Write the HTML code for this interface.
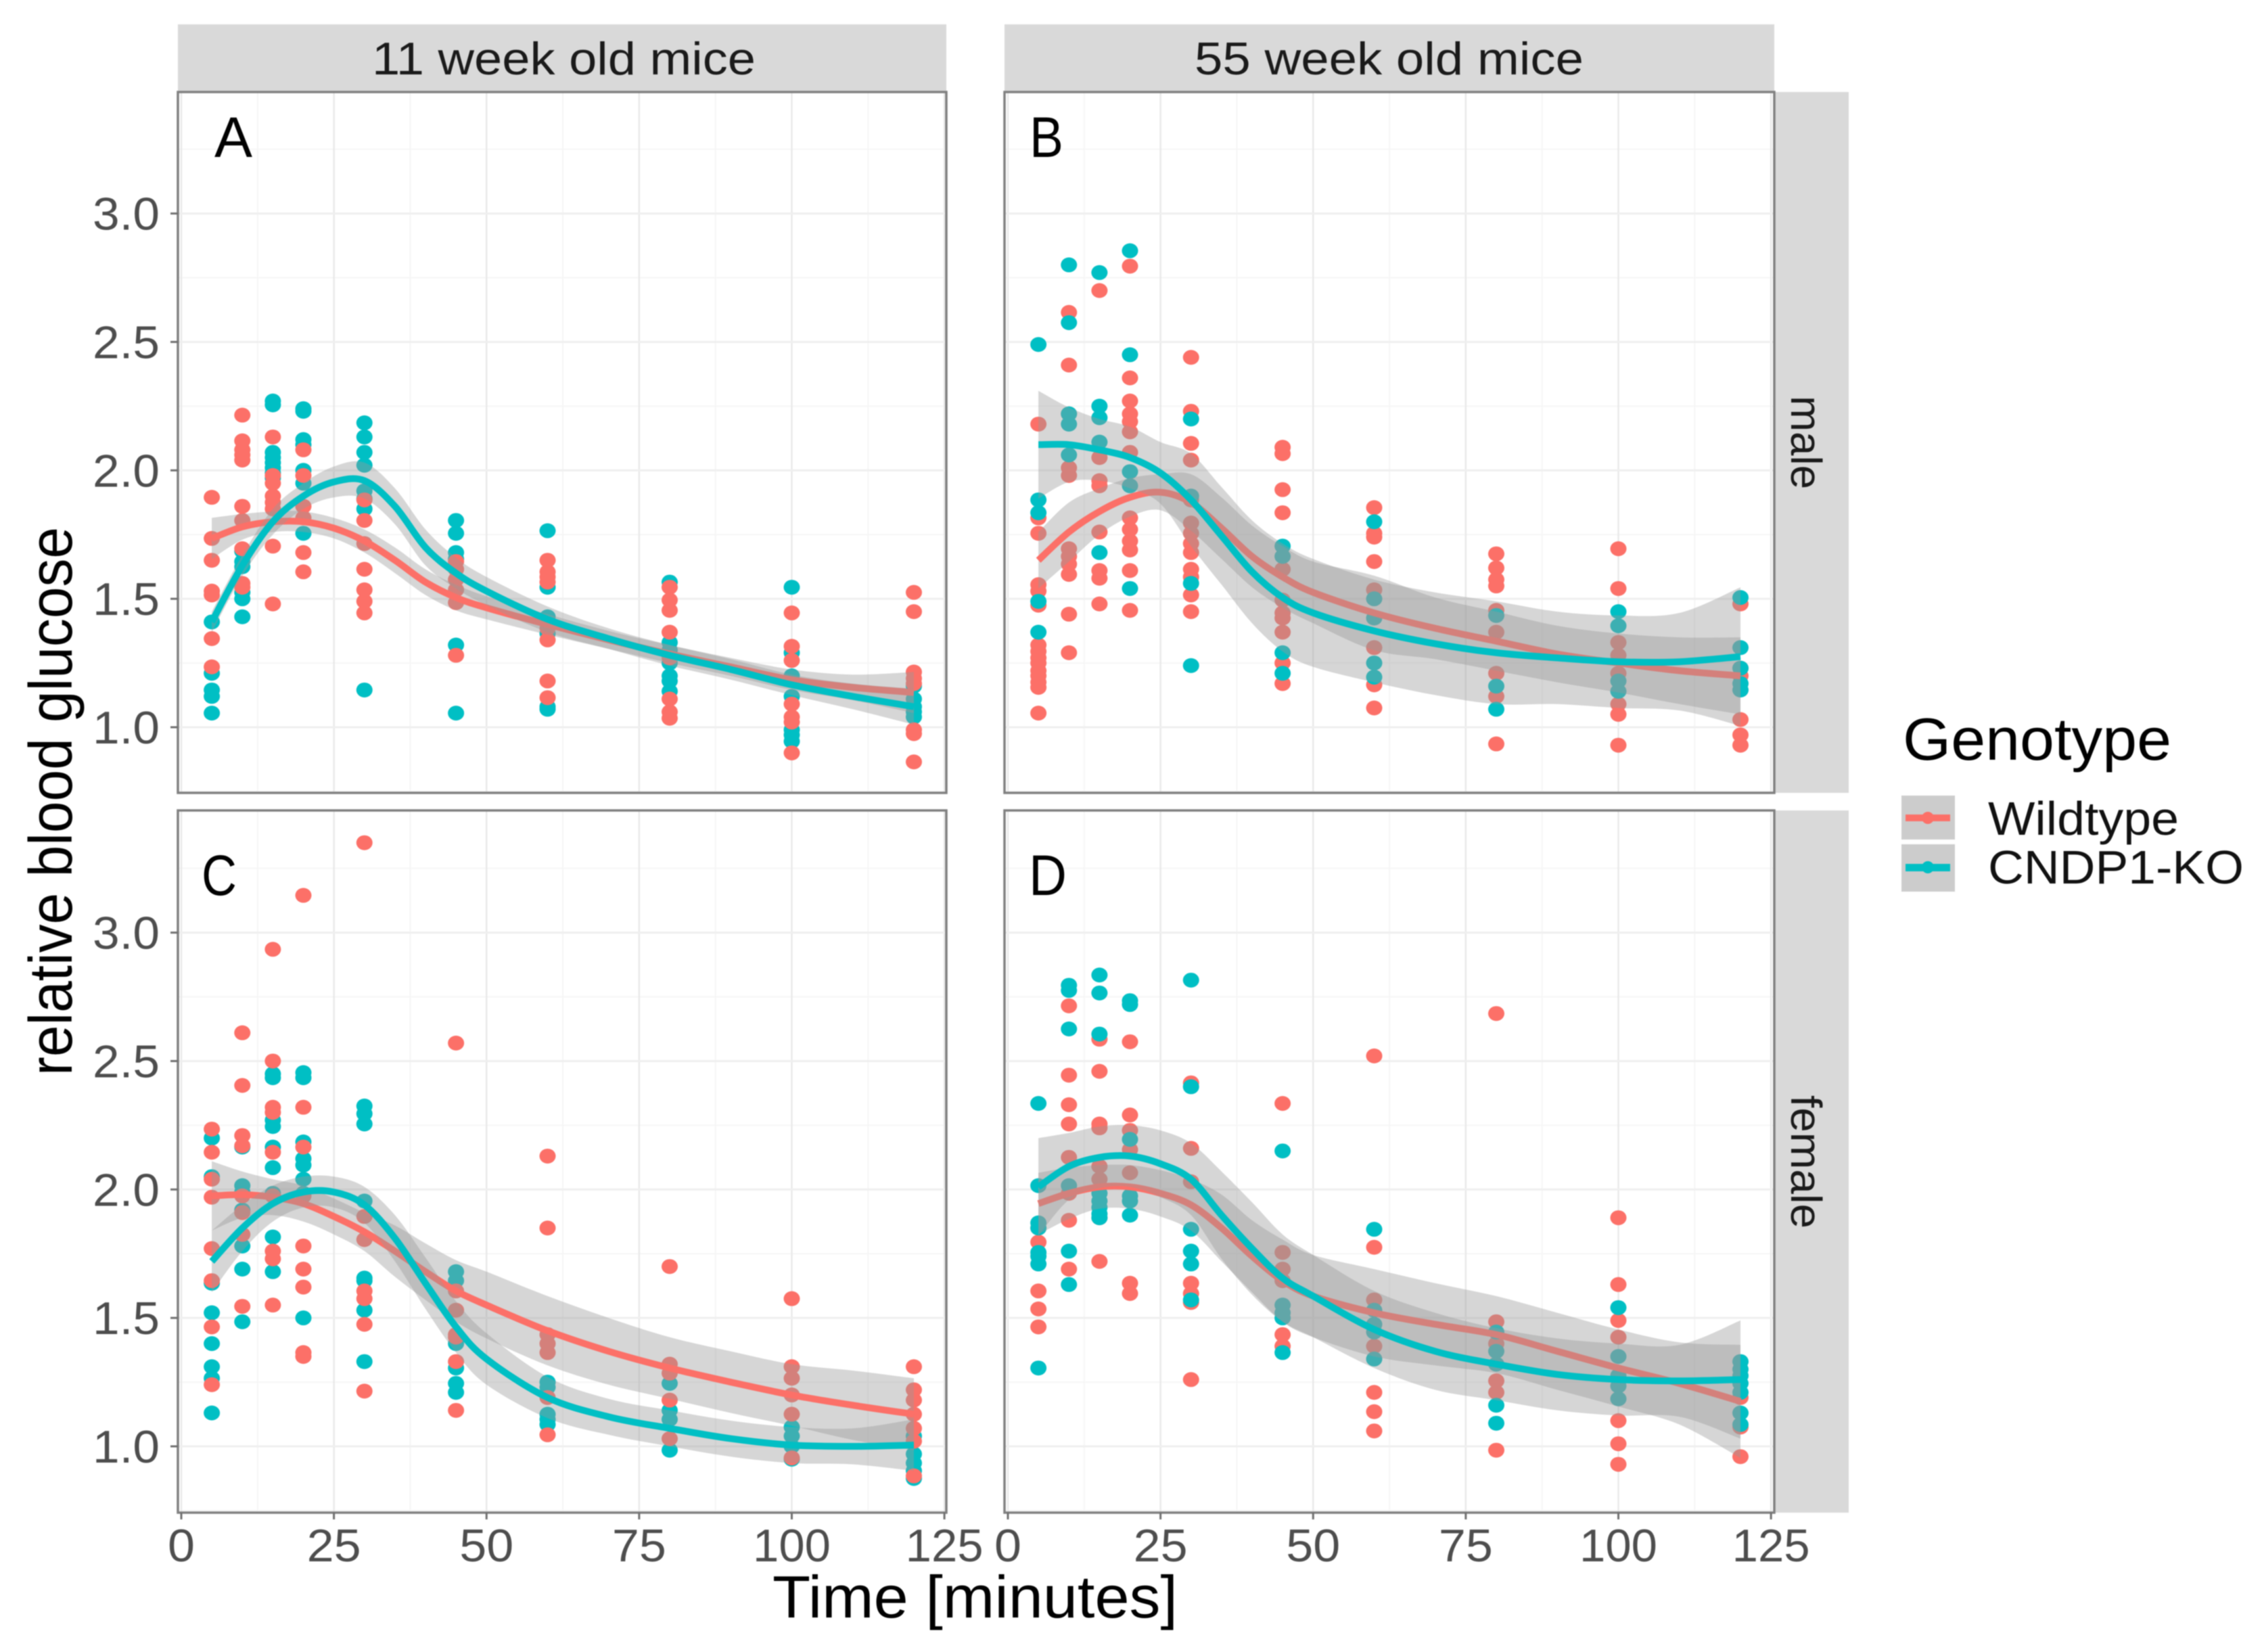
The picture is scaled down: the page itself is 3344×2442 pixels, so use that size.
<!DOCTYPE html>
<html lang="en">
<head>
<meta charset="utf-8">
<title>Relative blood glucose over time</title>
<style>
html,body{margin:0;padding:0;background:#fff;}
svg{display:block;font-family:"Liberation Sans",Arial,sans-serif;filter:blur(0.8px);}
</style>
</head>
<body>
<svg id="chart" xmlns="http://www.w3.org/2000/svg" width="3344" height="2442" viewBox="0 0 3344 2442">
  <rect x="0" y="0" width="3344" height="2442" fill="#ffffff"/>
  <g fill="#d9d9d9">
    <rect x="263" y="36" width="1136" height="100"/>
    <rect x="1485" y="36" width="1138" height="100"/>
    <rect x="2623" y="136" width="110" height="1036"/>
    <rect x="2623" y="1198" width="110" height="1038"/>
  </g>
  <g id="panels"></g>
  <g id="axes"></g>
  <g fill="#1a1a1a" font-size="68">
    <text x="550" y="110" textLength="567" lengthAdjust="spacingAndGlyphs">11 week old mice</text>
    <text x="1766" y="110" textLength="575" lengthAdjust="spacingAndGlyphs">55 week old mice</text>
    <text transform="translate(2648,585) rotate(90)" font-size="64" textLength="138" lengthAdjust="spacingAndGlyphs">male</text>
    <text transform="translate(2648,1619) rotate(90)" font-size="64" textLength="197" lengthAdjust="spacingAndGlyphs">female</text>
  </g>
  <g fill="#000000" font-size="84">
    <text x="317" y="232" textLength="56" lengthAdjust="spacingAndGlyphs">A</text>
    <text x="1522" y="232" textLength="50" lengthAdjust="spacingAndGlyphs">B</text>
    <text x="298" y="1323" textLength="52" lengthAdjust="spacingAndGlyphs">C</text>
    <text x="1521" y="1323" textLength="56" lengthAdjust="spacingAndGlyphs">D</text>
  </g>
  <text x="1142" y="2391" font-size="88" fill="#000000" textLength="599" lengthAdjust="spacingAndGlyphs">Time [minutes]</text>
  <text transform="translate(106,1590) rotate(-90)" font-size="90" fill="#000000" textLength="811" lengthAdjust="spacingAndGlyphs">relative blood glucose</text>
  <g>
    <text x="2813" y="1123" font-size="88" fill="#000000" textLength="397" lengthAdjust="spacingAndGlyphs">Genotype</text>
    <rect x="2811" y="1176" width="79" height="65" fill="#cccccc"/>
    <rect x="2811" y="1248" width="79" height="70" fill="#cccccc"/>
    <rect x="2817" y="1204" width="66" height="10" fill="#fc7068"/>
    <circle cx="2850" cy="1209" r="9" fill="#fc7068"/>
    <rect x="2817" y="1277" width="66" height="11" fill="#00bfc4"/>
    <circle cx="2850" cy="1282" r="9" fill="#00bfc4"/>
    <text x="2939" y="1234" font-size="70" fill="#111111" textLength="282" lengthAdjust="spacingAndGlyphs">Wildtype</text>
    <text x="2939" y="1306" font-size="70" fill="#111111" textLength="378" lengthAdjust="spacingAndGlyphs">CNDP1-KO</text>
  </g>
</svg>
<script>
const sampleTimes = [5, 10, 15, 20, 30, 45, 60, 80, 100, 120];
const curveTimes = [5, 10, 15, 20, 25, 30, 35, 40, 45, 50, 60, 70, 80, 90, 100, 110, 120];
const xTickLabels = ['0', '25', '50', '75', '100', '125'];
const xTickValues = [0, 25, 50, 75, 100, 125];
const xMinorValues = [12.5, 37.5, 62.5, 87.5, 112.5];
const yTickLabels = ['1.0', '1.5', '2.0', '2.5', '3.0'];
const yTickValues = [1, 1.5, 2, 2.5, 3];
const yMinorValues = [0.75, 1.25, 1.75, 2.25, 2.75, 3.25];

const panelAWildtypePoints = [
  [1.895, 1.735, 1.65, 1.53, 1.515, 1.345, 1.235],
  [2.215, 2.115, 2.08, 2.06, 2.04, 1.86, 1.805, 1.695, 1.56, 1.545],
  [2.13, 1.98, 1.95, 1.9, 1.875, 1.85, 1.705, 1.48],
  [2.08, 1.98, 1.86, 1.815, 1.68, 1.605],
  [1.885, 1.805, 1.715, 1.615, 1.535, 1.49, 1.445],
  [1.645, 1.615, 1.575, 1.535, 1.485, 1.28],
  [1.65, 1.605, 1.585, 1.565, 1.385, 1.34, 1.18, 1.115],
  [1.545, 1.495, 1.455, 1.37, 1.27, 1.11, 1.06, 1.035],
  [1.445, 1.315, 1.26, 1.09, 1.04, 1.02, 0.9],
  [1.525, 1.45, 1.215, 1.19, 1.17, 0.99, 0.975, 0.865]
];
const panelAKnockoutPoints = [
  [1.41, 1.21, 1.145, 1.12, 1.055],
  [1.685, 1.645, 1.625, 1.525, 1.5, 1.43],
  [2.27, 2.255, 2.07, 2.05, 2.03, 2.01, 1.99, 1.97],
  [2.24, 2.23, 2.12, 2.1, 2.0, 1.95, 1.755],
  [2.185, 2.13, 2.07, 2.02, 1.92, 1.89, 1.85, 1.145],
  [1.805, 1.755, 1.68, 1.655, 1.32, 1.055],
  [1.765, 1.545, 1.43, 1.365, 1.08, 1.07],
  [1.565, 1.33, 1.3, 1.25, 1.2, 1.18, 1.14],
  [1.545, 1.29, 1.2, 1.12, 0.99, 0.97, 0.945],
  [1.16, 1.11, 1.08, 1.06, 1.04]
];
const panelBWildtypePoints = [
  [2.18, 1.815, 1.755, 1.555, 1.53, 1.475, 1.32, 1.295, 1.27, 1.25, 1.22, 1.2, 1.175, 1.155, 1.055],
  [2.615, 2.41, 2.22, 2.01, 1.98, 1.695, 1.665, 1.635, 1.595, 1.44, 1.29],
  [2.7, 2.05, 1.96, 1.94, 1.76, 1.61, 1.58, 1.48],
  [2.795, 2.36, 2.27, 2.22, 2.19, 2.15, 2.07, 1.815, 1.77, 1.725, 1.69, 1.61, 1.455],
  [2.44, 2.23, 2.105, 2.04, 1.885, 1.795, 1.755, 1.715, 1.68, 1.615, 1.585, 1.515, 1.45],
  [2.09, 2.065, 1.925, 1.835, 1.615, 1.495, 1.445, 1.425, 1.37, 1.25, 1.17],
  [1.855, 1.755, 1.74, 1.645, 1.535, 1.31, 1.165, 1.075],
  [1.675, 1.62, 1.575, 1.55, 1.455, 1.37, 1.21, 1.12, 0.935],
  [1.695, 1.54, 1.33, 1.28, 1.21, 1.09, 1.05, 0.93],
  [1.48, 1.23, 1.2, 1.03, 0.97, 0.93]
];
const panelBKnockoutPoints = [
  [2.49, 1.885, 1.835, 1.49, 1.37],
  [2.8, 2.575, 2.22, 2.18, 2.06],
  [2.77, 2.25, 2.205, 2.11, 1.68],
  [2.855, 2.45, 1.995, 1.94, 1.54],
  [2.2, 1.9, 1.56, 1.24],
  [1.705, 1.665, 1.29, 1.21],
  [1.8, 1.5, 1.425, 1.25, 1.195],
  [1.435, 1.16, 1.07],
  [1.45, 1.395, 1.18, 1.14],
  [1.505, 1.31, 1.23, 1.17, 1.145]
];
const panelCWildtypePoints = [
  [2.235, 2.145, 2.04, 1.97, 1.77, 1.645, 1.465, 1.24],
  [2.61, 2.405, 2.21, 2.17, 1.975, 1.91, 1.825, 1.545],
  [2.935, 2.5, 2.32, 2.3, 2.145, 1.975, 1.76, 1.73, 1.55],
  [3.145, 2.32, 2.165, 1.975, 1.78, 1.69, 1.62, 1.365, 1.35],
  [3.35, 1.895, 1.805, 1.605, 1.575, 1.475, 1.215],
  [2.57, 1.605, 1.53, 1.435, 1.425, 1.33, 1.14],
  [2.13, 1.85, 1.435, 1.4, 1.365, 1.19, 1.045],
  [1.7, 1.32, 1.285, 1.18, 1.03],
  [1.575, 1.31, 1.265, 1.2, 1.125, 0.955],
  [1.31, 1.22, 1.18, 1.125, 1.07, 1.02, 0.885]
];
const panelCKnockoutPoints = [
  [2.2, 2.05, 1.635, 1.52, 1.4, 1.31, 1.265, 1.13],
  [2.165, 2.015, 1.99, 1.92, 1.78, 1.69, 1.485],
  [2.45, 2.435, 2.27, 2.245, 2.165, 2.085, 1.985, 1.815, 1.68],
  [2.455, 2.435, 2.185, 2.12, 2.095, 2.04, 1.985, 1.5],
  [2.325, 2.295, 2.255, 1.955, 1.655, 1.645, 1.53, 1.33],
  [1.68, 1.645, 1.4, 1.305, 1.245, 1.21],
  [1.25, 1.23, 1.125, 1.105, 1.085],
  [1.245, 1.14, 1.105, 0.985],
  [1.075, 1.04, 1.0, 0.95],
  [1.04, 0.97, 0.935, 0.905, 0.875]
];
const panelDWildtypePoints = [
  [1.85, 1.795, 1.605, 1.535, 1.465],
  [2.715, 2.445, 2.33, 2.255, 2.125, 1.985, 1.88, 1.69],
  [2.585, 2.46, 2.255, 2.24, 2.09, 2.04, 1.89, 1.72],
  [2.575, 2.29, 2.23, 2.155, 2.065, 1.635, 1.595],
  [2.415, 2.16, 2.03, 1.635, 1.595, 1.56, 1.26],
  [2.335, 1.755, 1.69, 1.645, 1.435, 1.39],
  [2.52, 1.775, 1.57, 1.39, 1.21, 1.135, 1.06],
  [2.685, 1.485, 1.4, 1.255, 1.21, 0.985],
  [1.89, 1.63, 1.49, 1.425, 1.1, 1.01, 0.93],
  [1.19, 1.075, 0.96]
];
const panelDKnockoutPoints = [
  [2.335, 2.015, 1.87, 1.85, 1.755, 1.74, 1.71, 1.305],
  [2.795, 2.775, 2.625, 2.015, 1.76, 1.63],
  [2.835, 2.765, 2.605, 1.985, 1.955, 1.93, 1.905, 1.89],
  [2.735, 2.72, 2.195, 1.975, 1.955, 1.9],
  [2.815, 2.4, 1.845, 1.76, 1.71, 1.57],
  [2.15, 1.55, 1.52, 1.5, 1.365],
  [1.845, 1.53, 1.475, 1.445, 1.34],
  [1.445, 1.37, 1.32, 1.16, 1.09],
  [1.54, 1.35, 1.275, 1.235, 1.185],
  [1.33, 1.3, 1.275, 1.245, 1.21, 1.13, 1.085]
];

const panelAWildtypeCurve = [1.735, 1.78, 1.8, 1.8, 1.775, 1.725, 1.65, 1.565, 1.505, 1.465, 1.4, 1.34, 1.285, 1.235, 1.185, 1.155, 1.135];
const panelAWildtypeBand = [0.08, 0.05, 0.04, 0.04, 0.04, 0.045, 0.05, 0.05, 0.05, 0.045, 0.04, 0.035, 0.035, 0.035, 0.04, 0.05, 0.08];
const panelAKnockoutCurve = [1.41, 1.63, 1.8, 1.9, 1.955, 1.96, 1.86, 1.7, 1.6, 1.53, 1.42, 1.345, 1.28, 1.225, 1.165, 1.12, 1.08];
const panelAKnockoutBand = [0.04, 0.04, 0.05, 0.05, 0.06, 0.07, 0.07, 0.07, 0.06, 0.055, 0.05, 0.04, 0.04, 0.04, 0.04, 0.05, 0.07];
const panelBWildtypeCurve = [1.65, 1.76, 1.84, 1.895, 1.915, 1.875, 1.775, 1.665, 1.585, 1.525, 1.445, 1.385, 1.335, 1.285, 1.25, 1.22, 1.2];
const panelBWildtypeBand = [0.11, 0.115, 0.09, 0.075, 0.07, 0.11, 0.12, 0.12, 0.12, 0.12, 0.145, 0.12, 0.115, 0.11, 0.115, 0.13, 0.15];
const panelBKnockoutCurve = [2.1, 2.1, 2.08, 2.05, 1.99, 1.885, 1.745, 1.605, 1.505, 1.445, 1.375, 1.325, 1.29, 1.27, 1.255, 1.255, 1.275];
const panelBKnockoutBand = [0.21, 0.145, 0.12, 0.12, 0.12, 0.18, 0.19, 0.2, 0.21, 0.21, 0.2, 0.2, 0.2, 0.18, 0.18, 0.19, 0.27];
const panelCWildtypeCurve = [1.975, 1.98, 1.97, 1.945, 1.895, 1.835, 1.76, 1.68, 1.605, 1.55, 1.45, 1.37, 1.305, 1.25, 1.2, 1.16, 1.125];
const panelCWildtypeBand = [0.135, 0.09, 0.07, 0.07, 0.07, 0.075, 0.1, 0.11, 0.12, 0.13, 0.135, 0.13, 0.12, 0.12, 0.12, 0.135, 0.14];
const panelCKnockoutCurve = [1.72, 1.85, 1.945, 1.99, 1.99, 1.94, 1.81, 1.635, 1.465, 1.34, 1.19, 1.115, 1.07, 1.03, 1.005, 1.0, 1.005];
const panelCKnockoutBand = [0.12, 0.09, 0.07, 0.06, 0.06, 0.07, 0.09, 0.1, 0.1, 0.1, 0.08, 0.07, 0.07, 0.07, 0.07, 0.07, 0.1];
const panelDWildtypeCurve = [1.945, 1.985, 2.01, 2.01, 1.985, 1.94, 1.85, 1.74, 1.645, 1.585, 1.52, 1.475, 1.435, 1.37, 1.305, 1.245, 1.175];
const panelDWildtypeBand = [0.12, 0.1, 0.085, 0.085, 0.09, 0.1, 0.13, 0.14, 0.16, 0.16, 0.17, 0.16, 0.15, 0.15, 0.15, 0.16, 0.22];
const panelDKnockoutCurve = [2.01, 2.09, 2.125, 2.13, 2.1, 2.04, 1.9, 1.77, 1.655, 1.585, 1.455, 1.37, 1.32, 1.28, 1.26, 1.255, 1.26];
const panelDKnockoutBand = [0.19, 0.13, 0.12, 0.12, 0.13, 0.14, 0.17, 0.18, 0.17, 0.16, 0.15, 0.15, 0.14, 0.14, 0.14, 0.14, 0.23];

const NS = 'http://www.w3.org/2000/svg';
const COLOR_WT = '#fc7068';
const COLOR_KO = '#00bfc4';
const panelsRoot = document.getElementById('panels');
const axesRoot = document.getElementById('axes');

function svgEl(tag, parent) {
  const el = document.createElementNS(NS, tag);
  parent.appendChild(el);
  return el;
}
function xScale(col) {
  const zero = col === 0 ? 268 : 1490;
  return function (t) { return zero + t * 9.025; };
}
function yScale(row) {
  const one = row === 0 ? 1075 : 2138;
  return function (v) { return one - (v - 1) * 379.7; };
}
function splineSegments(pts) {
  let d = '';
  for (let i = 0; i < pts.length - 1; i++) {
    const p0 = pts[Math.max(i - 1, 0)];
    const p1 = pts[i];
    const p2 = pts[i + 1];
    const p3 = pts[Math.min(i + 2, pts.length - 1)];
    const c1x = p1[0] + (p2[0] - p0[0]) / 6;
    const c1y = p1[1] + (p2[1] - p0[1]) / 6;
    const c2x = p2[0] - (p3[0] - p1[0]) / 6;
    const c2y = p2[1] - (p3[1] - p1[1]) / 6;
    d += 'C' + c1x.toFixed(1) + ' ' + c1y.toFixed(1) + ' ' + c2x.toFixed(1) + ' ' + c2y.toFixed(1) + ' ' + p2[0].toFixed(1) + ' ' + p2[1].toFixed(1);
  }
  return d;
}
function curvePoints(x, y, values, sign, band) {
  return curveTimes.map(function (t, i) {
    const offset = band ? sign * band[i] : 0;
    return [x(t), y(values[i] + offset)];
  });
}

function drawGrid(g, x, y, box) {
  xMinorValues.forEach(function (v) {
    const l = svgEl('line', g);
    
    
    l.setAttribute('x1', x(v)); l.setAttribute('x2', x(v));
    l.setAttribute('y1', box.top); l.setAttribute('y2', box.bottom);
    l.setAttribute('stroke', '#f5f5f5'); l.setAttribute('stroke-width', 2);
  });
  yMinorValues.forEach(function (v) {
    const l = svgEl('line', g);
    
    
    l.setAttribute('x1', box.left); l.setAttribute('x2', box.right);
    l.setAttribute('y1', y(v)); l.setAttribute('y2', y(v));
    l.setAttribute('stroke', '#f6f6f6'); l.setAttribute('stroke-width', 2);
  });
  xTickValues.forEach(function (v) {
    const l = svgEl('line', g);
    
    
    l.setAttribute('x1', x(v)); l.setAttribute('x2', x(v));
    l.setAttribute('y1', box.top); l.setAttribute('y2', box.bottom);
    l.setAttribute('stroke', '#e9e9e9'); l.setAttribute('stroke-width', 2.5);
  });
  yTickValues.forEach(function (v) {
    const l = svgEl('line', g);
    
    
    l.setAttribute('x1', box.left); l.setAttribute('x2', box.right);
    l.setAttribute('y1', y(v)); l.setAttribute('y2', y(v));
    l.setAttribute('stroke', '#efefef'); l.setAttribute('stroke-width', 3);
  });
}
function drawPoints(g, x, y, series, color, name) {
  series.forEach(function (values, i) {
    values.forEach(function (v) {
      const c = svgEl('ellipse', g);
      
      
      c.setAttribute('cx', x(sampleTimes[i]));
      c.setAttribute('cy', y(v));
      c.setAttribute('rx', 12);
      c.setAttribute('ry', 11);
      c.setAttribute('fill', color);
    });
  });
}
function drawBand(g, x, y, curve, band, name) {
  const upper = curvePoints(x, y, curve, 1, band);
  const lower = curvePoints(x, y, curve, -1, band).reverse();
  const p = svgEl('path', g);
  
  
  const d = 'M' + upper[0][0].toFixed(1) + ' ' + upper[0][1].toFixed(1) + splineSegments(upper) +
    'L' + lower[0][0].toFixed(1) + ' ' + lower[0][1].toFixed(1) + splineSegments(lower) + 'Z';
  p.setAttribute('d', d);
  p.setAttribute('fill', '#999999');
  p.setAttribute('fill-opacity', 0.4);
}
function drawCurve(g, x, y, curve, color, name) {
  const pts = curvePoints(x, y, curve, 0, null);
  const p = svgEl('path', g);
  
  
  p.setAttribute('d', 'M' + pts[0][0].toFixed(1) + ' ' + pts[0][1].toFixed(1) + splineSegments(pts));
  p.setAttribute('fill', 'none');
  p.setAttribute('stroke', color);
  p.setAttribute('stroke-width', 10);
}
function drawPanel(cfg) {
  const x = xScale(cfg.col);
  const y = yScale(cfg.row);
  const box = cfg.box;
  const g = svgEl('g', panelsRoot);
  
  
  drawGrid(g, x, y, box);
  if (cfg.wildtypeOnTop) {
    drawPoints(g, x, y, cfg.koPoints, COLOR_KO, 'point-cndp1-ko');
    drawPoints(g, x, y, cfg.wtPoints, COLOR_WT, 'point-wildtype');
  } else {
    drawPoints(g, x, y, cfg.wtPoints, COLOR_WT, 'point-wildtype');
    drawPoints(g, x, y, cfg.koPoints, COLOR_KO, 'point-cndp1-ko');
  }
  drawBand(g, x, y, cfg.wtCurve, cfg.wtBand, 'confidence-band-wildtype');
  drawCurve(g, x, y, cfg.wtCurve, COLOR_WT, 'smooth-line-wildtype');
  drawBand(g, x, y, cfg.koCurve, cfg.koBand, 'confidence-band-cndp1-ko');
  drawCurve(g, x, y, cfg.koCurve, COLOR_KO, 'smooth-line-cndp1-ko');
  const frame = svgEl('rect', g);
  
  
  frame.setAttribute('x', box.left);
  frame.setAttribute('y', box.top);
  frame.setAttribute('width', box.right - box.left);
  frame.setAttribute('height', box.bottom - box.top);
  frame.setAttribute('fill', 'none');
  frame.setAttribute('stroke', '#808080');
  frame.setAttribute('stroke-width', 3.5);
}
function drawXAxis(col) {
  const x = xScale(col);
  xTickValues.forEach(function (v, i) {
    const tick = svgEl('line', axesRoot);
    
    
    tick.setAttribute('x1', x(v)); tick.setAttribute('x2', x(v));
    tick.setAttribute('y1', 2236); tick.setAttribute('y2', 2246);
    tick.setAttribute('stroke', '#707070'); tick.setAttribute('stroke-width', 3);
    const label = svgEl('text', axesRoot);
    
    
    label.setAttribute('x', x(v));
    label.setAttribute('y', 2308);
    label.setAttribute('text-anchor', 'middle');
    label.setAttribute('font-size', 68);
    label.setAttribute('fill', '#4d4d4d');
    label.setAttribute('textLength', xTickLabels[i].length * 40 - (xTickLabels[i].length > 2 ? 5 : 0));
    label.setAttribute('lengthAdjust', 'spacingAndGlyphs');
    label.textContent = xTickLabels[i];
  });
}
function drawYAxis(row) {
  const y = yScale(row);
  yTickValues.forEach(function (v, i) {
    const tick = svgEl('line', axesRoot);
    
    
    tick.setAttribute('x1', 252); tick.setAttribute('x2', 263);
    tick.setAttribute('y1', y(v)); tick.setAttribute('y2', y(v));
    tick.setAttribute('stroke', '#707070'); tick.setAttribute('stroke-width', 3);
    const label = svgEl('text', axesRoot);
    
    
    label.setAttribute('x', 137);
    label.setAttribute('y', y(v) + 24);
    label.setAttribute('font-size', 68);
    label.setAttribute('fill', '#4d4d4d');
    label.setAttribute('textLength', 99);
    label.setAttribute('lengthAdjust', 'spacingAndGlyphs');
    label.textContent = yTickLabels[i];
  });
}

drawPanel({ name: 'panel-a-11-week-male', col: 0, row: 0, wildtypeOnTop: true,
  box: { left: 263, right: 1399, top: 136, bottom: 1172 },
  wtPoints: panelAWildtypePoints, koPoints: panelAKnockoutPoints,
  wtCurve: panelAWildtypeCurve, wtBand: panelAWildtypeBand,
  koCurve: panelAKnockoutCurve, koBand: panelAKnockoutBand });
drawPanel({ name: 'panel-b-55-week-male', col: 1, row: 0, wildtypeOnTop: false,
  box: { left: 1485, right: 2623, top: 136, bottom: 1172 },
  wtPoints: panelBWildtypePoints, koPoints: panelBKnockoutPoints,
  wtCurve: panelBWildtypeCurve, wtBand: panelBWildtypeBand,
  koCurve: panelBKnockoutCurve, koBand: panelBKnockoutBand });
drawPanel({ name: 'panel-c-11-week-female', col: 0, row: 1, wildtypeOnTop: true,
  box: { left: 263, right: 1399, top: 1198, bottom: 2236 },
  wtPoints: panelCWildtypePoints, koPoints: panelCKnockoutPoints,
  wtCurve: panelCWildtypeCurve, wtBand: panelCWildtypeBand,
  koCurve: panelCKnockoutCurve, koBand: panelCKnockoutBand });
drawPanel({ name: 'panel-d-55-week-female', col: 1, row: 1, wildtypeOnTop: false,
  box: { left: 1485, right: 2623, top: 1198, bottom: 2236 },
  wtPoints: panelDWildtypePoints, koPoints: panelDKnockoutPoints,
  wtCurve: panelDWildtypeCurve, wtBand: panelDWildtypeBand,
  koCurve: panelDKnockoutCurve, koBand: panelDKnockoutBand });
drawXAxis(0);
drawXAxis(1);
drawYAxis(0);
drawYAxis(1);
</script>
</body>
</html>
